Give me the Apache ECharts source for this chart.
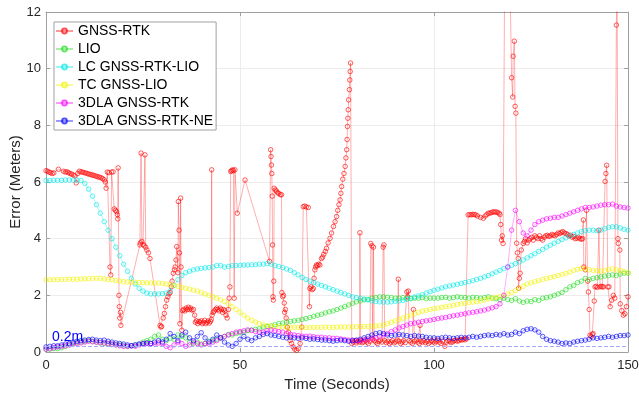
<!DOCTYPE html>
<html>
<head>
<meta charset="utf-8">
<script src="https://cdn.jsdelivr.net/npm/echarts@6/dist/echarts.min.js"></script>
<style>
  html, body { margin: 0; padding: 0; background: #fff; }
  #chart { width: 639px; height: 396px; }
</style>
</head>
<body>
<div id="chart"></div>
<script>
// series names as in the legend
var names = ['GNSS-RTK', 'LIO', 'LC GNSS-RTK-LIO', 'TC GNSS-LIO', '3DLA GNSS-RTK', '3DLA GNSS-RTK-NE']
var colors = ['#ff0000', '#22dd22', '#00e8e8', '#f2f200', '#ff00ff', '#0000ff']

var xTicks = [0, 50, 100, 150]
var yTicks = [0, 2, 4, 6, 8, 10, 12]

// GNSS-RTK error, [time, meters]
var gnssRtk = [
  [0,6.4],[0.4,6.38],[0.8,6.35],[1.2,6.33],[1.6,6.3],[2,6.32],[3.2,6.45],[4.5,6.38],[5,6.35],[5.4,6.36],
  [5.8,6.33],[6.2,6.3],[6.6,6.28],[7,6.25],[7.4,6.22],[7.8,5.97],[8.2,6.3],[8.6,6.38],[9,6.36],[9.4,6.35],
  [9.8,6.33],[10.2,6.32],[10.6,6.3],[11,6.28],[11.4,6.27],[11.8,6.25],[12.2,6.24],[12.6,6.22],[13,6.2],
  [13.4,6.18],[13.8,6.17],[14.2,6.15],[14.6,6.12],[15,6.08],[15.3,6.0],[15.5,5.78],[15.8,6.35],[16.2,6.33],
  [16.5,3.0],[16.7,2.72],[16.9,6.35],[17.3,6.36],[17.6,5.05],[17.9,5.0],[18.2,4.95],[18.4,4.85],[18.5,4.7],
  [18.6,6.5],[18.8,2.0],[18.9,1.6],[19.0,1.2],[19.2,1.4],[19.3,0.94],
  [24.2,3.78],[24.3,3.85],[24.5,7.02],[24.7,3.9],[25,3.8],[25.3,3.75],[25.5,6.96],[25.7,3.7],[26,3.6],
  [26.4,3.5],[26.8,3.3],[29.4,0.94],[29.6,0.88],[29.8,0.9],[30.2,1.2],[30.5,1.36],[30.8,1.6],[31.1,1.83],
  [31.4,1.95],[31.7,2.05],[32,2.1],[32.3,2.3],[32.5,2.5],[32.8,2.78],[33.1,2.9],[33.3,3.0],[33.5,3.25],
  [33.7,3.72],[34.0,2.8],[34.1,5.31],[34.3,4.3],[34.4,3.5],[34.5,1.0],[34.7,5.43],[34.8,3.0],[35,0.77],
  [35.2,1.46],[35.5,1.5],[35.8,1.45],[36.1,1.55],[36.4,1.5],[36.7,1.58],[37,1.5],[37.3,1.55],[37.6,1.48],
  [38,1.5],[38.3,1.3],[38.5,1.05],[38.8,1.1],[39.1,1.0],[39.4,1.08],[39.7,1.05],[40,1.1],[40.3,1.0],
  [40.6,1.05],[40.9,1.12],[41.2,1.0],[41.5,1.05],[41.8,1.1],[42.1,1.02],[42.4,1.08],[42.6,1.15],[42.7,6.43],
  [42.8,1.3],[43.1,1.4],[43.4,1.45],[43.7,1.5],[44,1.55],[44.3,1.5],[44.6,1.45],[44.9,1.55],[45.2,1.5],
  [45.5,1.4],[45.8,1.5],[46.1,1.45],[46.4,1.3],[46.7,1.2],[47,1.5],[47.2,1.9],[47.4,2.3],[47.6,6.37],
  [47.8,6.4],[48.1,6.43],[48.3,6.4],[48.5,1.9],[48.7,6.43],[49.3,4.9],[51.3,6.07],[57.6,3.2],
  [57.9,7.14],[58.0,6.9],[58.1,6.6],[58.2,6.3],[58.3,5.5],[58.4,3.78],[58.5,1.95],[58.6,1.83],[58.7,2.5],
  [58.8,5.78],[59.1,5.72],[59.4,5.68],[59.7,5.62],[60,5.6],[60.4,5.55],[60.7,5.55],[60.8,2.1],[61,1.95],
  [61.2,2.0],[61.4,1.73],[61.5,1.4],[61.7,1.5],[61.9,1.2],[62.2,0.88],[62.5,0.7],[62.9,0.41],[63.3,0.3],
  [63.7,0.18],[64.1,0.1],[64.6,0.06],[65,0.12],[65.5,0.3],[65.9,0.88],[66.3,5.13],[66.7,5.15],[67.1,5.12],
  [67.6,5.1],[67.9,1.6],[68,2.24],[68.3,2.3],[68.6,2.2],[68.9,2.24],[69.1,2.6],[69.3,2.9],[69.5,3.0],
  [69.7,3.07],[70,3.05],[70.3,3.1],[70.6,3.07],[71,3.3],[71.3,3.35],[71.6,3.45],[72,3.55],[72.3,3.66],
  [72.7,3.85],[73.2,4.01],[73.6,4.2],[74.1,4.43],[74.5,4.6],[74.9,4.78],[75.2,5.0],[75.5,5.2],[75.8,5.37],
  [76,5.6],[76.2,5.84],[76.5,6.1],[76.8,6.3],[77.1,6.55],[77.3,6.85],[77.5,7.14],[77.6,7.5],[77.7,7.96],
  [77.8,8.25],[77.9,8.55],[78,8.9],[78.2,9.26],[78.3,9.6],[78.4,9.9],[78.5,10.2],[78.8,0.3],
  [79.2,0.35],[79.6,0.4],[80,0.32],[80.4,0.38],[80.8,0.35],[80.9,4.21],[81.1,0.4],[81.5,0.33],[81.9,0.36],
  [82.3,0.42],[82.7,0.35],[83.1,0.3],[83.5,0.38],[83.7,3.83],[84,3.75],[84.2,0.45],[84.4,3.7],[84.6,0.4],
  [85,0.35],[85.4,0.3],[85.8,0.38],[86.2,0.42],[86.6,0.35],[86.9,3.7],[87.1,3.78],[87.3,0.4],[87.7,0.33],
  [88.1,0.38],[88.5,0.3],[88.9,0.35],[89.3,0.4],[89.7,0.32],[90.1,0.36],[90.5,0.42],[90.8,2.57],[91,0.38],
  [91.4,0.3],[91.8,0.35],[92.2,0.4],[92.6,0.33],[93,2.12],[93.2,1.95],[93.4,2.15],[93.6,0.4],[94,0.35],
  [94.4,0.3],[94.7,1.5],[95,0.38],[95.4,0.42],[95.8,0.35],[96.2,0.3],[96.4,0.94],[96.6,0.38],[97,0.35],
  [97.4,0.4],[97.8,0.33],[98.2,0.38],[98.6,0.3],[99,0.35],[99.4,0.4],[99.8,0.36],[100.2,0.32],[100.6,0.38],
  [101,0.42],[101.4,0.35],[101.8,0.3],[102.2,0.38],[102.8,0.2],[103.2,0.35],[103.6,0.4],[104,0.38],
  [104.4,0.33],[104.8,0.36],[105.2,0.4],[105.6,0.42],[106,0.38],[106.4,0.4],[106.8,0.44],[107.2,0.42],
  [107.6,0.45],[108,0.43],[108.4,0.47],[108.8,4.84],[109.2,4.85],[109.6,4.84],[110,4.86],[110.4,4.85],
  [110.8,4.84],[111.2,4.8],[112,4.75],[112.7,4.72],[113.2,4.8],[113.6,4.85],[114,4.9],[114.4,4.9],
  [114.8,4.92],[115.2,4.95],[115.6,4.93],[116,4.95],[116.4,4.92],[116.8,4.9],[117,4.85],[117.2,4.5],
  [117.4,3.95],[117.6,4.1],[117.8,3.83],[118.2,13],[119.6,13],[120,9.68],[120.3,9.0],[120.4,10.44],
  [120.7,10.97],[120.9,8.67],[121.1,8.43],[121.3,3.84],[121.5,3.5],[121.7,3.3],[121.8,2.25],[122,2.6],
  [122.2,2.78],[122.5,3.6],[123,3.83],[123.3,3.9],[123.6,4.0],[124,3.85],[124.4,3.95],[124.8,4.0],
  [125.2,4.05],[125.6,3.95],[126,4.1],[126.4,4.05],[126.8,4.0],[127.2,4.1],[127.6,4.0],[128,3.95],
  [128.4,4.05],[128.8,4.1],[129.2,4.12],[129.6,4.08],[130,4.1],[130.4,4.15],[130.8,4.12],[131.2,4.1],
  [131.6,4.15],[132,4.2],[132.4,4.18],[132.8,4.22],[133.2,4.25],[133.6,4.2],[134,4.18],[134.4,4.15],
  [134.8,4.1],[135.2,4.12],[135.6,4.05],[136,4.08],[136.4,4.0],[136.8,4.02],[137.2,4.05],[137.6,4.0],
  [138,3.98],[138.3,4.0],[138.5,4.66],[138.6,3.0],[139,2.9],[139.3,5.0],[139.6,2.5],[139.8,2.12],
  [140,1.5],[140.2,0.59],[140.5,0.55],[140.8,0.62],[141,0.65],[141.3,1.8],[141.5,2.3],[141.8,2.32],
  [142.1,2.28],[142.5,4.3],[142.8,2.3],[143.1,2.32],[143.4,2.3],[143.7,2.3],[144.1,6.02],[144.3,6.3],
  [144.5,6.59],[144.8,2.3],[145.1,2.3],[145.4,1.6],[145.8,1.83],[146.2,2.0],[146.6,1.9],[147,11.54],
  [147.2,13],[147.4,4.0],[147.5,3.83],[147.9,3.6],[148,1.7],[148.4,1.46],[148.8,1.3],[149.2,1.35],
  [149.6,1.6],[150,1.95]
]

// the other five are sampled once per second, t = 0..150
var lio = [
  0.1,0.1,0.12,0.12,0.15,0.2,0.25,0.3,0.33,0.35,0.38,0.4,0.38,0.35,0.32,0.3,0.28,0.26,0.25,0.25,
  0.22,0.2,0.22,0.25,0.28,0.35,0.4,0.45,0.55,0.6,0.45,0.4,0.48,0.45,0.6,0.55,0.5,0.35,0.3,0.35,
  0.28,0.3,0.38,0.4,0.45,0.5,0.55,0.62,0.6,0.65,0.68,0.7,0.75,0.78,0.8,0.82,0.88,0.9,0.92,0.96,
  1.0,1.02,1.05,1.08,1.1,1.12,1.15,1.18,1.22,1.26,1.3,1.33,1.38,1.42,1.45,1.5,1.55,1.6,1.66,1.72,
  1.77,1.8,1.84,1.86,1.9,1.92,1.95,1.95,1.93,1.92,1.9,1.9,1.92,1.9,1.88,1.9,1.9,1.92,1.88,1.9,
  1.9,1.9,1.92,1.93,1.9,1.92,1.95,1.93,1.92,1.9,1.93,1.92,1.9,1.92,1.95,1.9,1.88,1.85,1.9,1.85,
  1.82,1.88,1.8,1.75,1.8,1.78,1.85,1.82,1.9,1.92,1.95,2.0,2.05,2.1,2.2,2.3,2.35,2.45,2.5,2.6,
  2.55,2.6,2.62,2.65,2.68,2.7,2.72,2.7,2.75,2.78,2.78
]
var lcGnssLio = [
  6.05,6.05,6.06,6.06,6.06,6.07,6.07,6.07,6.07,6.05,5.95,5.75,5.5,5.2,4.9,4.6,4.3,4.0,3.7,3.4,
  3.1,2.85,2.6,2.4,2.25,2.15,2.08,2.05,2.05,2.05,2.06,2.08,2.15,2.35,2.55,2.7,2.8,2.85,2.9,2.93,
  2.95,2.97,2.98,3.0,3.05,3.05,3.0,3.02,3.05,3.05,3.06,3.07,3.07,3.08,3.08,3.1,3.1,3.12,3.1,3.05,
  3.02,2.98,2.93,2.88,2.8,2.72,2.63,2.56,2.5,2.45,2.4,2.35,2.3,2.25,2.2,2.15,2.1,2.05,2.0,1.95,
  1.92,1.9,1.87,1.84,1.8,1.78,1.77,1.76,1.76,1.77,1.79,1.8,1.82,1.86,1.9,1.94,1.98,2.02,2.08,2.13,
  2.18,2.22,2.26,2.3,2.33,2.36,2.39,2.42,2.45,2.48,2.52,2.56,2.6,2.65,2.7,2.76,2.82,2.88,2.94,3.0,
  3.06,3.12,3.18,3.25,3.32,3.4,3.47,3.55,3.62,3.7,3.77,3.84,3.9,3.97,4.03,4.1,4.15,4.2,4.25,4.28,
  4.3,4.3,4.28,4.3,4.35,4.4,4.42,4.42,4.38,4.33,4.3
]
var tcGnssLio = [
  2.55,2.55,2.55,2.56,2.56,2.56,2.57,2.57,2.57,2.58,2.58,2.59,2.6,2.6,2.6,2.58,2.56,2.55,2.52,2.5,
  2.48,2.47,2.46,2.46,2.45,2.45,2.44,2.44,2.43,2.43,2.42,2.4,2.38,2.35,2.32,2.28,2.25,2.22,2.18,2.15,
  2.1,2.05,2.0,1.95,1.9,1.85,1.78,1.7,1.6,1.5,1.4,1.3,1.2,1.12,1.06,1.0,0.96,0.93,0.91,0.9,
  0.88,0.88,0.87,0.87,0.87,0.87,0.87,0.86,0.86,0.87,0.87,0.87,0.88,0.87,0.87,0.88,0.88,0.88,0.88,0.89,
  0.89,0.9,0.9,0.9,0.91,0.92,0.93,0.95,1.0,1.05,1.1,1.15,1.2,1.25,1.3,1.35,1.4,1.44,1.47,1.5,
  1.53,1.55,1.58,1.6,1.62,1.65,1.68,1.7,1.72,1.74,1.76,1.78,1.8,1.84,1.87,1.9,1.93,1.96,2.0,2.05,
  2.1,2.17,2.25,2.32,2.4,2.44,2.48,2.52,2.56,2.6,2.63,2.66,2.7,2.74,2.78,2.82,2.88,2.92,2.95,2.93,
  2.9,2.88,2.87,2.85,2.88,2.92,2.93,2.9,2.88,2.84,2.8
]
var dlaGnssRtk = [
  0.1,0.12,0.15,0.18,0.2,0.22,0.25,0.28,0.3,0.32,0.35,0.38,0.36,0.35,0.33,0.32,0.3,0.28,0.25,0.22,
  0.2,0.2,0.22,0.2,0.25,0.28,0.3,0.3,0.28,0.32,0.3,0.2,0.15,0.25,0.35,0.3,0.2,0.25,0.35,0.3,
  0.25,0.3,0.28,0.35,0.4,0.5,0.55,0.6,0.65,0.7,0.72,0.75,0.78,0.76,0.72,0.7,0.7,0.75,0.78,0.75,
  0.72,0.7,0.65,0.62,0.6,0.58,0.56,0.55,0.56,0.54,0.52,0.52,0.5,0.5,0.48,0.48,0.46,0.44,0.42,0.42,
  0.4,0.4,0.42,0.45,0.48,0.5,0.55,0.6,0.65,0.72,0.78,0.85,0.9,0.95,1.0,1.02,1.05,1.08,1.1,1.12,
  1.15,1.18,1.2,1.22,1.25,1.28,1.3,1.33,1.35,1.38,1.4,1.42,1.45,1.48,1.52,1.56,1.6,1.7,2.0,3.0,
  4.3,5.0,4.6,4.2,4.1,4.3,4.5,4.6,4.65,4.7,4.72,4.75,4.75,4.8,4.85,4.9,4.95,5.0,5.05,5.1,
  5.1,5.12,5.15,5.18,5.2,5.2,5.22,5.15,5.12,5.1,5.08
]
var dlaGnssRtkNe = [
  0.18,0.2,0.22,0.22,0.25,0.28,0.3,0.35,0.38,0.4,0.42,0.44,0.45,0.42,0.4,0.42,0.38,0.35,0.32,0.3,
  0.28,0.25,0.22,0.25,0.28,0.3,0.32,0.3,0.35,0.4,0.35,0.45,0.65,0.55,0.4,0.6,0.7,0.5,0.4,0.55,
  0.68,0.5,0.35,0.45,0.6,0.5,0.35,0.25,0.2,0.3,0.45,0.55,0.45,0.4,0.5,0.55,0.62,0.65,0.6,0.58,
  0.55,0.52,0.5,0.52,0.5,0.48,0.5,0.48,0.45,0.46,0.44,0.42,0.42,0.4,0.38,0.4,0.42,0.4,0.38,0.4,
  0.42,0.45,0.5,0.55,0.6,0.65,0.68,0.65,0.6,0.58,0.6,0.62,0.6,0.58,0.55,0.58,0.56,0.55,0.52,0.5,
  0.5,0.48,0.5,0.52,0.5,0.48,0.5,0.52,0.5,0.52,0.55,0.52,0.55,0.58,0.6,0.58,0.62,0.6,0.65,0.6,
  0.62,0.7,0.65,0.75,0.8,0.82,0.78,0.7,0.55,0.45,0.4,0.38,0.35,0.3,0.32,0.3,0.35,0.38,0.4,0.42,
  0.45,0.5,0.48,0.5,0.52,0.55,0.52,0.55,0.58,0.58,0.6
]
var threshold = 0.2

function withTime(vals) {
  return vals.map(function (v, i) { return [i, v] })
}

var chart = echarts.init(document.getElementById('chart'))
var font = 'Liberation Sans, Arial, Helvetica, sans-serif'
var txt = '#262626'

function makeSeries(name, color, data) {
  return {
    name: name,
    type: 'line',
    data: data,
    symbol: 'circle',
    symbolSize: 4.5,
    clip: true,
    itemStyle: { color: 'rgba(255,255,255,0)', borderColor: color, borderWidth: 0.9, opacity: 0.7 },
    lineStyle: { color: color, width: 0.8, opacity: 0.4 },
    emphasis: { disabled: true }
  }
}

var series = [
  makeSeries(names[0], colors[0], gnssRtk),
  makeSeries(names[1], colors[1], withTime(lio)),
  makeSeries(names[2], colors[2], withTime(lcGnssLio)),
  makeSeries(names[3], colors[3], withTime(tcGnssLio)),
  makeSeries(names[4], colors[4], withTime(dlaGnssRtk)),
  makeSeries(names[5], colors[5], withTime(dlaGnssRtkNe))
]
// dashed 0.2 m reference line
series[5].markLine = {
  silent: true,
  symbol: 'none',
  lineStyle: { color: '#a8a8ff', type: 'dashed', width: 1 },
  label: { show: true, position: 'insideStartTop', formatter: '0.2m', color: '#0000ff', fontSize: 14, fontFamily: font, distance: [6, 2] },
  data: [{ yAxis: threshold }]
}

var option = {
  animation: false,
  backgroundColor: '#fff',
  grid: { left: 46, right: 11, top: 12, bottom: 44, outerBoundsMode: 'none', containLabel: false },
  legend: {
    data: names,
    orient: 'vertical',
    left: 54,
    top: 22,
    padding: [2, 3, 2, 1],
    itemWidth: 17,
    itemHeight: 6,
    itemGap: 4,
    backgroundColor: '#fff',
    borderColor: '#a0a0a0',
    borderWidth: 1,
    borderRadius: 0,
    textStyle: { fontSize: 14, fontFamily: font, color: '#000' }
  },
  xAxis: [{
    type: 'value', min: xTicks[0], max: xTicks[xTicks.length - 1], interval: 50,
    name: 'Time (Seconds)', nameLocation: 'middle', nameGap: 25,
    nameTextStyle: { fontSize: 15, fontFamily: font, color: txt },
    axisLine: { lineStyle: { color: '#a0a0a0' } },
    axisTick: { inside: true, length: 4, lineStyle: { color: '#a0a0a0' } },
    axisLabel: { fontSize: 13, fontFamily: font, color: txt, margin: 7 },
    splitLine: { lineStyle: { color: '#ececec' } }
  }, {
    type: 'value', position: 'top', min: 0, max: 150, interval: 50,
    axisLine: { show: true, onZero: false, lineStyle: { color: '#a0a0a0' } },
    axisTick: { inside: true, length: 4, lineStyle: { color: '#a0a0a0' } },
    axisLabel: { show: false }, splitLine: { show: false }
  }],
  yAxis: [{
    type: 'value', min: yTicks[0], max: yTicks[yTicks.length - 1], interval: 2,
    name: 'Error (Meters)', nameLocation: 'middle', nameGap: 23, nameMoveOverlap: false,
    nameTextStyle: { fontSize: 15, fontFamily: font, color: txt },
    axisLine: { show: true, lineStyle: { color: '#a0a0a0' } },
    axisTick: { show: true, inside: true, length: 4, lineStyle: { color: '#a0a0a0' } },
    axisLabel: { fontSize: 13, fontFamily: font, color: txt, margin: 5 },
    splitLine: { lineStyle: { color: '#ececec' } }
  }, {
    type: 'value', position: 'right', min: 0, max: 12, interval: 2,
    axisLine: { show: true, onZero: false, lineStyle: { color: '#a0a0a0' } },
    axisTick: { show: true, inside: true, length: 4, lineStyle: { color: '#a0a0a0' } },
    axisLabel: { show: false }, splitLine: { show: false }
  }],
  series: series
}
chart.setOption(option)
</script>
</body>
</html>
